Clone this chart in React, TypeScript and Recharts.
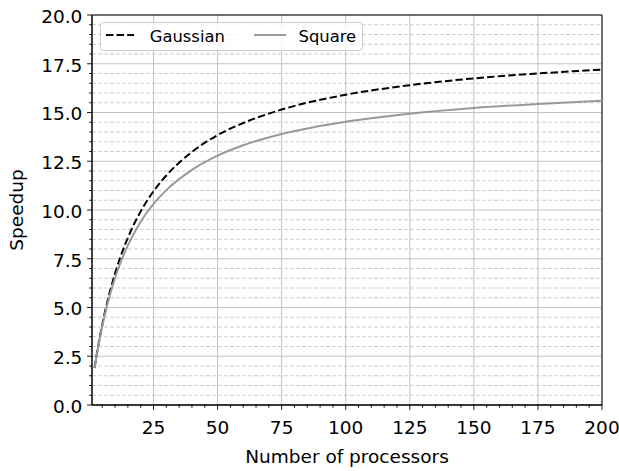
import {
  CartesianGrid,
  Label,
  Legend,
  Line,
  LineChart,
  ReferenceArea,
  XAxis,
  YAxis,
} from "recharts";

const processors = [2, 3, 4, 5, 6, 8, 10, 12, 15, 20, 25, 30, 40, 50, 60, 75, 100, 125, 150, 175, 200];
const gaussianSpeedup = [
  1.9, 2.71, 3.45, 4.12, 4.74, 5.82, 6.75, 7.56, 8.58, 9.93, 10.96, 11.77, 12.98, 13.84, 14.46,
  15.15, 15.91, 16.4, 16.75, 17.0, 17.2,
];
const squareSpeedup = [
  1.89, 2.68, 3.4, 4.04, 4.63, 5.65, 6.52, 7.26, 8.19, 9.4, 10.31, 11.02, 12.06, 12.79, 13.32,
  13.9, 14.53, 14.94, 15.23, 15.44, 15.6,
];

const xMajor = [25, 50, 75, 100, 125, 150, 175, 200];
const xTicks = Array.from({ length: 40 }, (_, i) => (i + 1) * 5);
const yMajor = [0, 2.5, 5, 7.5, 10, 12.5, 15, 17.5, 20];
const yTicks = Array.from({ length: 41 }, (_, i) => i * 0.5);
const yMinor = yTicks.filter((v) => v % 2.5 !== 0);

const data = processors.map((n, i) => ({
  n,
  gaussian: gaussianSpeedup[i],
  square: squareSpeedup[i],
}));

const FONT = "'DejaVu Sans', sans-serif";
const FONT_SIZE = 18.5;
const LEGEND_FONT_SIZE = 16.4;

function YTick({ x, y, payload }: any) {
  const v = payload.value as number;
  const major = v % 2.5 === 0;
  return (
    <g>
      <line x1={x - (major ? 4.9 : 2.8)} x2={x} y1={y} y2={y} stroke="#000" strokeWidth={0.9} />
      {major && (
        <text x={x - 9.6} y={y + 7.8} textAnchor="end" fontFamily={FONT} fontSize={FONT_SIZE} fill="#000">
          {v.toFixed(1)}
        </text>
      )}
    </g>
  );
}

function XTick({ x, y, payload }: any) {
  const v = payload.value as number;
  const major = v % 25 === 0;
  return (
    <g>
      <line x1={x} x2={x} y1={y} y2={y + (major ? 4.9 : 2.8)} stroke="#000" strokeWidth={0.9} />
      {major && (
        <text x={x} y={y + 29} textAnchor="middle" fontFamily={FONT} fontSize={FONT_SIZE} fill="#000">
          {v}
        </text>
      )}
    </g>
  );
}

function LegendBox() {
  return (
    <svg width={263} height={29}>
      <rect x={0.5} y={0.5} width={262} height={28} rx={3} fill="rgba(255,255,255,0.8)" stroke="#cccccc" />
      <line x1={6} x2={34} y1={13} y2={13} stroke="#000" strokeWidth={2} strokeDasharray="7.4 3.2" />
      <text x={49.7} y={20.2} fontFamily={FONT} fontSize={LEGEND_FONT_SIZE} fill="#000">
        Gaussian
      </text>
      <line x1={154} x2={186} y1={13} y2={13} stroke="#999999" strokeWidth={2} />
      <text x={198.5} y={20.2} fontFamily={FONT} fontSize={LEGEND_FONT_SIZE} fill="#000">
        Square
      </text>
    </svg>
  );
}

export default function App() {
  return (
    <div>
      <style>{"body{margin:0;background:#fff}"}</style>
      <LineChart width={619} height={471} data={data} margin={{ top: 15, right: 17, left: 0, bottom: 0 }}>
        <CartesianGrid horizontalValues={yMinor} vertical={false} stroke="#cfcfcf" strokeDasharray="4 2" />
        <CartesianGrid horizontalValues={yMajor} verticalValues={xMajor} stroke="#c2c2c2" />
        <XAxis
          dataKey="n"
          type="number"
          domain={[1, 200]}
          ticks={xTicks}
          interval={0}
          tickSize={0}
          tickMargin={0}
          tickLine={false}
          tick={<XTick />}
          height={66}
          axisLine={{ stroke: "#000" }}
          allowDataOverflow
        >
          <Label
            content={({ viewBox }: any) => (
              <text
                x={viewBox.x + viewBox.width / 2}
                y={463}
                textAnchor="middle"
                fontFamily={FONT}
                fontSize={FONT_SIZE}
                fill="#000"
              >
                Number of processors
              </text>
            )}
          />
        </XAxis>
        <YAxis
          type="number"
          domain={[0, 20]}
          ticks={yTicks}
          interval={0}
          tickSize={0}
          tickMargin={0}
          tickLine={false}
          tick={<YTick />}
          width={92}
          axisLine={{ stroke: "#000" }}
          allowDataOverflow
        >
          <Label
            content={({ viewBox }: any) => {
              const cy = viewBox.y + viewBox.height / 2;
              return (
                <text
                  x={23}
                  y={cy}
                  transform={`rotate(-90, 23, ${cy})`}
                  textAnchor="middle"
                  fontFamily={FONT}
                  fontSize={FONT_SIZE}
                  fill="#000"
                >
                  Speedup
                </text>
              );
            }}
          />
        </YAxis>
        <ReferenceArea x1={1} x2={200} y1={0} y2={20} fill="none" stroke="#000" strokeWidth={1} />
        <Line
          type="monotone"
          dataKey="gaussian"
          name="Gaussian"
          stroke="#000"
          strokeWidth={2}
          strokeDasharray="7.4 3.2"
          dot={false}
          isAnimationActive={false}
        />
        <Line
          type="monotone"
          dataKey="square"
          name="Square"
          stroke="#999999"
          strokeWidth={2}
          dot={false}
          isAnimationActive={false}
        />
        <Legend
          layout="horizontal"
          verticalAlign="middle"
          align="center"
          wrapperStyle={{ top: 22, left: 100, width: 263, height: 29 }}
          content={() => <LegendBox />}
        />
      </LineChart>
    </div>
  );
}
